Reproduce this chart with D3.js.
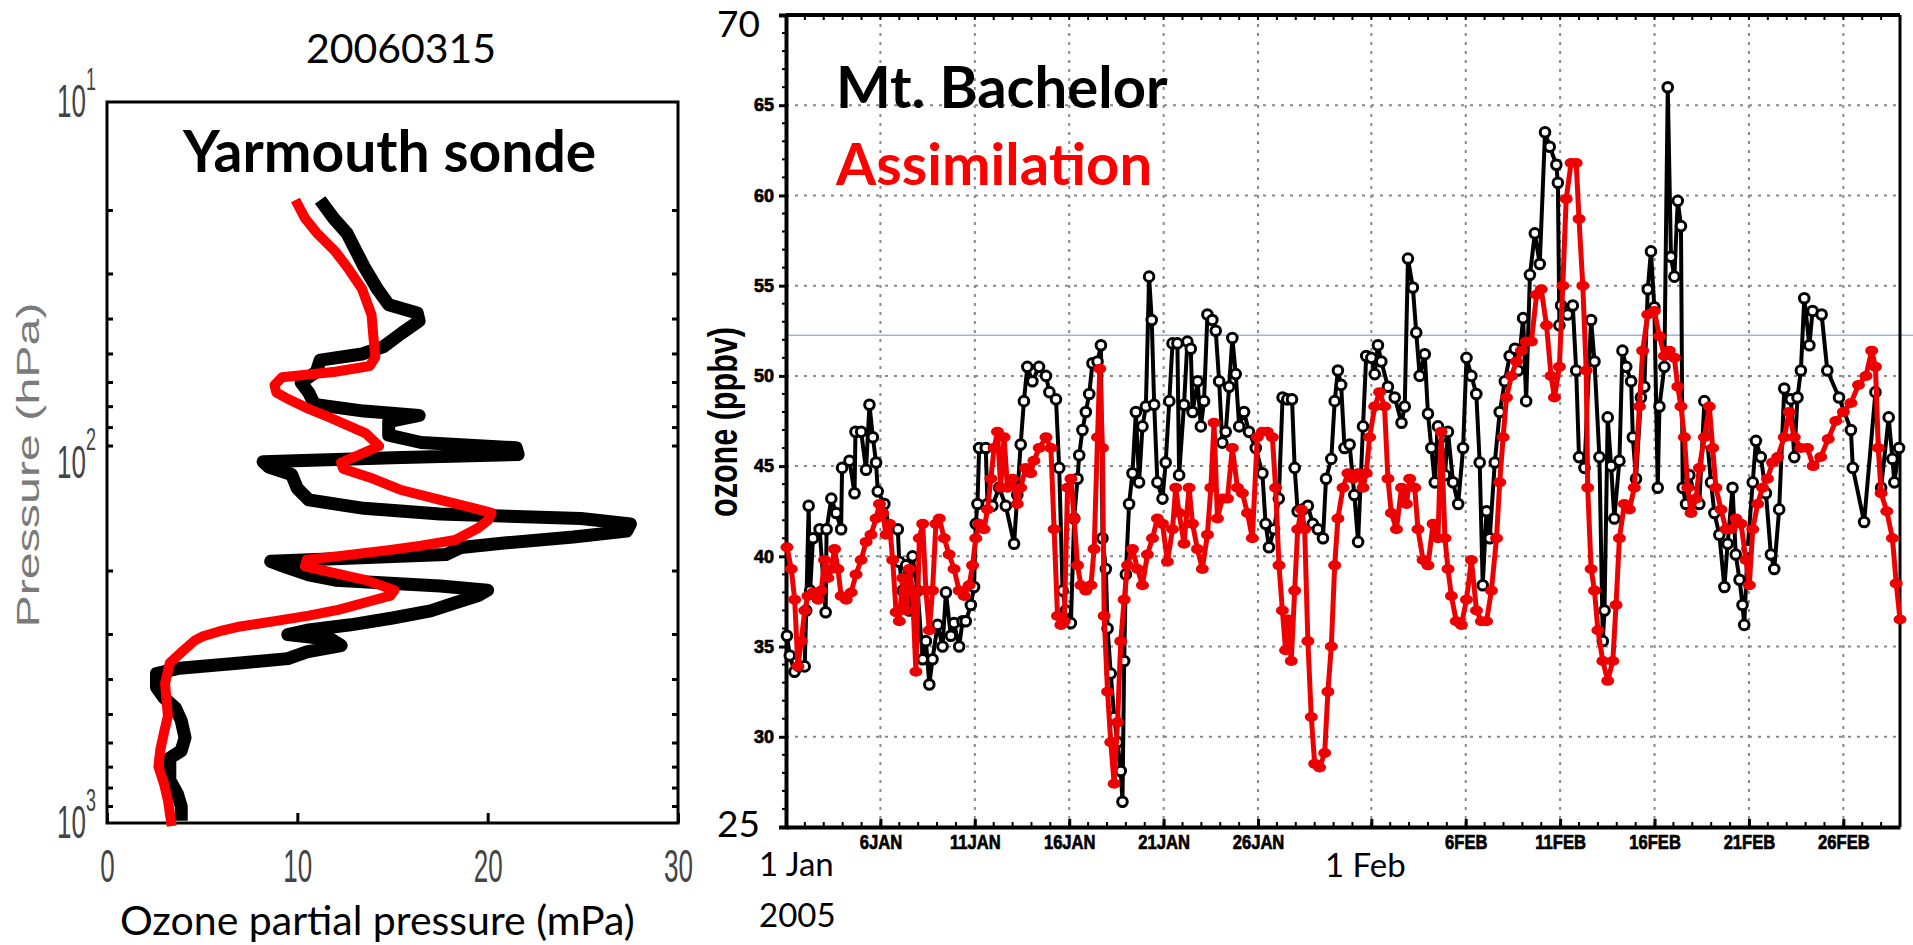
<!DOCTYPE html>
<html>
<head>
<meta charset="utf-8">
<script src="https://cdn.jsdelivr.net/npm/d3@7"></script>
<style>
  html, body { margin: 0; padding: 0; background: #fff; }
  svg { display: block; }
</style>
</head>
<body>
<svg id="chart" width="1913" height="945"></svg>
<script>
// ---- sonde profile (left panel): pressure in hPa, ozone partial pressure in mPa
const sondeObsP = [18.7,21,23.1,26,28.6,33,36.5,38.5,40.5,43.7,47.8,50,52,56,60,64,69,72,74,77,84,88,91,95,97,99.5,103,108,118,127,134,139,143,148,155,161,167,172,180,184,188,195,205,212,220,226,234,245,258,270,282,292,300,310,322,335,350,360,372,385,420,450,480,520,580,630,660,760,830,900,985];
const sondeObsO3 = [11.2,11.9,12.6,13.1,13.5,14.2,14.8,16.3,16.4,15.5,14.5,13.4,11.2,11.0,10.2,10.6,10.9,13.5,16.4,14.8,14.8,16.5,21.5,21.6,15,8.2,8.5,9.7,10.0,10.6,13.5,17.5,24.9,27.5,27.3,24.5,21.0,18.6,17.8,13.0,8.6,9.4,10.6,12.0,17.5,20.0,19.5,18.3,17.0,15.0,12.8,10.5,9.5,11.8,12.3,10.5,9.5,7.0,3.8,2.6,2.6,3.0,3.6,3.9,4.1,3.9,3.3,3.3,3.7,3.9,3.9];
const sondeModelP = [18.7,21,23,26,28.6,33,39,45,51,54,56,58,61,64,67,71,75,83,90,96,100,104,110,119,127,134,138,145,152,164,170,175,181,186,194,200,212,226,234,241,256,266,275,285,292,304,312,333,360,410,505,560,627,697,780,864,1020];
const sondeModelO3 = [9.9,10.4,11.0,12.0,12.6,13.4,13.9,14.0,14.1,13.8,12.0,9.2,8.8,8.9,9.6,10.6,11.7,13.6,14.3,13.1,12.3,12.4,13.8,15.4,17.5,19.3,20.2,20.0,19.5,18.3,16.5,14.8,12.5,10.5,10.4,11.5,13.6,15.1,14.9,14.0,12.2,10.6,8.9,7.0,6.1,5.0,4.6,4.0,3.3,3.05,3.2,3.0,2.8,2.7,3.0,3.2,3.4];
const sondeXTicks = [0, 10, 20, 30];
const sondeYTicks = [10, 100, 1000];

// ---- Mt. Bachelor surface ozone (right panel): days since 1 Jan 2005, ppbv
const obsDay = [0.05,0.2,0.45,0.7,0.99,1.07,1.2,1.28,1.43,1.78,2.1,2.15,2.4,2.66,2.92,2.97,3.36,3.63,3.68,3.98,4.24,4.42,4.6,4.77,4.86,5.21,5.48,5.92,6.0,6.18,6.36,6.53,6.7,6.97,7.24,7.41,7.59,7.76,8.03,8.29,8.47,8.73,8.9,9.17,9.35,9.52,9.79,9.96,10.05,10.14,10.23,10.58,10.67,10.93,11.29,11.64,12.08,12.25,12.43,12.6,12.78,13.05,13.4,13.77,13.95,14.3,14.47,14.65,14.82,15.09,15.26,15.44,15.53,15.7,15.88,16.06,16.23,16.5,16.68,16.76,16.94,17.03,17.2,17.38,17.56,17.73,17.82,17.91,18.0,18.17,18.35,18.53,18.7,18.88,19.06,19.23,19.37,19.5,19.67,19.94,20.11,20.3,20.47,20.73,20.82,21.08,21.26,21.44,21.53,21.8,21.97,22.14,22.32,22.58,22.76,22.94,23.11,23.29,23.47,23.64,23.82,24.0,24.26,24.52,24.88,25.23,25.4,25.58,25.85,26.1,26.3,26.55,26.8,26.94,27.1,27.38,27.64,27.9,28.17,28.44,28.6,28.88,29.06,29.23,29.4,29.58,29.85,30.1,30.3,30.56,30.73,31.0,31.18,31.35,31.53,31.88,32.24,32.6,32.77,32.94,33.2,33.38,33.56,33.83,34.0,34.18,34.36,34.53,34.7,34.9,35.06,35.33,35.6,35.86,36.04,36.3,36.56,36.74,36.9,37.1,37.27,37.54,37.8,38.07,38.33,38.6,38.77,39.04,39.2,39.4,39.66,39.92,40.2,40.45,40.8,40.88,40.96,41.05,41.4,41.67,41.85,42.0,42.29,42.64,42.82,43.08,43.26,43.35,43.52,43.7,43.87,44.14,44.3,44.5,44.76,44.85,45.02,45.28,45.46,45.64,45.81,45.99,46.17,46.26,46.52,46.7,46.87,47.05,47.23,47.4,47.49,47.67,47.84,48.1,48.37,48.64,48.8,48.99,49.17,49.43,49.7,49.87,50.13,50.3,50.5,50.66,50.75,50.93,51.2,51.37,51.63,51.9,52.16,52.34,52.6,52.87,53.22,53.4,53.57,53.75,53.93,54.2,54.37,54.85,55.15,55.77,56.4,56.5,57.1,57.7,58.0,58.4,58.6,58.7,58.95];
const obsO3 = [35.6,34.5,33.6,33.9,33.9,37.0,42.8,38.1,41.0,41.5,36.9,41.5,43.2,42.4,41.5,44.9,45.3,43.5,46.9,46.9,44.8,48.4,46.6,45.2,43.6,42.9,41.5,41.5,39.7,38.1,39.5,37.0,40.0,38.1,34.3,35.3,32.9,34.3,36.2,35.0,38.0,35.6,36.3,35.0,36.4,36.4,37.3,38.3,41.8,42.9,46.0,46.0,42.9,42.8,43.8,42.8,40.7,43.4,46.2,48.6,50.5,49.7,50.5,50.0,49.1,48.7,44.9,38.1,37.0,36.3,42.1,44.3,45.6,47.0,48.0,49.0,50.7,50.8,51.7,41.0,39.3,36.0,33.5,31.1,29.7,28.1,26.4,34.2,39.0,42.9,44.6,48.0,44.1,47.2,48.3,55.5,53.1,48.4,44.1,43.2,45.2,48.6,51.8,51.8,44.5,48.4,51.9,51.5,48.0,49.7,47.2,48.6,53.4,53.1,52.5,49.7,46.3,46.9,49.4,52.1,50.1,47.2,48.0,46.9,46.0,44.6,41.8,40.5,41.5,43.2,48.8,48.7,48.7,44.9,42.5,42.6,42.8,41.8,41.5,41.0,44.3,45.4,48.6,50.3,49.5,46.0,46.2,43.4,40.8,47.2,51.1,51.0,50.1,51.7,50.8,49.4,48.8,47.4,48.3,56.5,54.9,52.4,50.0,51.2,47.9,46.0,44.1,47.2,46.6,44.5,46.9,44.1,42.9,46.0,51.0,50.0,49.0,45.2,38.4,42.5,41.0,45.2,48.0,49.7,51.1,51.5,50.3,53.2,48.6,55.6,57.9,56.2,63.5,62.7,61.7,60.7,52.8,53.9,53.4,53.9,50.3,45.5,44.9,53.1,50.8,45.5,35.3,37.0,47.7,45.0,42.1,45.3,51.4,50.5,49.7,46.6,44.3,48.8,49.4,54.8,56.9,53.8,43.8,48.3,50.5,66.0,56.6,55.5,59.7,58.3,43.8,42.9,44.5,43.5,42.9,48.6,46.3,44.1,42.4,41.2,38.3,40.7,43.8,40.1,38.7,37.3,36.2,40.4,44.1,46.4,45.5,43.5,40.1,39.3,42.6,49.3,48.7,45.5,48.8,50.3,54.3,51.7,53.6,53.4,50.3,48.8,47.0,44.9,41.9,49.1,43.8,47.7,45.4,44.1,46.0];

// ---- assimilation at Mt. Bachelor
const modelDay = [0.05,0.28,0.46,0.63,0.81,0.99,1.16,1.43,1.7,1.87,2.04,2.22,2.39,2.57,2.75,2.92,3.19,3.45,3.71,3.98,4.24,4.5,4.77,4.95,5.12,5.3,5.48,5.65,5.83,6.0,6.18,6.36,6.53,6.7,6.88,7.06,7.24,7.41,7.59,7.76,7.94,8.12,8.38,8.64,8.9,9.17,9.44,9.7,9.88,10.05,10.23,10.49,10.67,10.85,11.02,11.2,11.37,11.55,11.73,12.0,12.25,12.43,12.69,12.96,13.13,13.41,13.77,14.03,14.2,14.38,14.56,14.74,14.91,15.09,15.26,15.44,15.62,15.88,16.15,16.32,16.5,16.62,16.76,16.85,17.03,17.2,17.38,17.56,17.73,17.91,18.09,18.35,18.62,18.88,19.14,19.41,19.67,19.94,20.2,20.47,20.64,20.82,21.08,21.35,21.53,21.79,22.05,22.32,22.5,22.67,22.85,23.11,23.38,23.64,23.91,24.17,24.44,24.7,24.96,25.23,25.49,25.76,25.93,26.11,26.29,26.46,26.6,26.76,26.94,27.1,27.3,27.47,27.64,27.82,28.0,28.26,28.53,28.7,28.88,29.06,29.23,29.5,29.76,30.03,30.3,30.56,30.73,30.91,31.18,31.44,31.7,31.88,32.06,32.33,32.6,32.86,33.03,33.3,33.47,33.74,34.0,34.27,34.53,34.7,34.9,35.06,35.24,35.5,35.77,36.04,36.3,36.57,36.83,37.1,37.36,37.63,37.8,37.98,38.16,38.42,38.69,38.95,39.2,39.48,39.75,40.0,40.28,40.52,40.7,40.96,41.14,41.32,41.58,41.85,42.0,42.2,42.38,42.46,42.64,42.82,43.0,43.26,43.52,43.79,43.96,44.14,44.4,44.67,44.93,45.2,45.37,45.64,45.99,46.26,46.52,46.78,47.05,47.23,47.4,47.58,47.76,47.93,48.2,48.37,48.64,48.9,49.08,49.25,49.52,49.78,50.05,50.31,50.58,50.84,51.02,51.2,51.46,51.72,51.98,52.25,52.52,52.87,53.13,53.4,53.75,54.1,54.4,54.8,55.2,55.6,56.0,56.4,56.8,57.2,57.5,57.7,57.85,58.0,58.3,58.6,58.8,59.0];
const modelO3 = [40.5,39.3,37.6,33.9,35.3,37.0,37.8,38.0,37.6,38.1,39.8,38.8,39.3,40.4,39.3,37.8,37.6,38.0,39.0,39.8,40.8,41.2,42.1,42.9,42.4,41.2,41.8,39.8,36.9,36.4,38.8,37.0,39.3,38.1,33.6,41.0,41.8,38.1,35.9,38.1,41.8,42.1,41.0,40.1,39.3,38.1,37.8,38.4,39.5,41.0,41.8,41.5,42.6,44.3,46.0,46.9,43.8,46.6,43.8,44.3,42.9,43.8,44.9,44.6,45.3,46.0,46.6,46.0,41.5,36.7,36.2,36.4,43.8,44.3,42.1,39.5,38.4,38.1,38.4,40.4,46.6,50.4,46.0,36.7,32.5,29.7,27.4,30.8,35.3,37.6,39.5,40.4,39.3,38.4,40.1,41.0,42.1,41.8,39.7,41.5,43.8,42.4,40.7,43.8,41.8,40.4,39.3,41.2,43.8,47.4,42.1,43.2,43.2,46.0,43.8,43.5,42.4,41.0,46.6,46.9,46.9,46.6,43.8,39.5,37.0,34.8,36.5,34.2,38.1,41.5,42.6,41.5,35.3,31.1,28.5,28.3,29.1,32.5,35.0,39.5,42.1,43.8,44.6,44.3,44.6,43.8,44.6,46.6,48.3,49.1,48.3,44.3,42.4,41.5,43.8,42.9,44.3,43.8,41.5,39.8,39.5,41.8,41.0,46.9,41.0,39.3,37.8,36.4,36.2,37.6,39.8,37.0,36.4,36.4,38.1,41.0,44.1,46.6,48.8,50.0,50.8,51.4,51.9,51.9,54.5,54.8,52.8,50.0,48.8,50.5,55.0,59.8,61.8,61.8,58.7,55.0,50.3,43.8,39.3,38.1,35.9,34.2,33.1,34.2,37.3,41.0,42.9,42.6,43.8,48.3,51.4,53.4,53.6,52.2,51.1,51.4,51.0,49.4,48.3,46.6,43.8,42.4,43.2,44.9,46.6,48.3,46.0,43.8,42.6,41.5,41.5,42.1,41.8,39.8,38.4,41.5,42.9,43.8,44.3,45.2,45.5,46.6,48.0,46.6,46.0,46.0,45.0,45.5,46.5,47.5,48.0,48.5,49.5,50.0,51.4,50.5,46.0,43.5,42.5,41.0,38.5,36.5];

const ozoneTicks = [30, 35, 40, 45, 50, 55, 60, 65];
const dateTickDays = [5, 10, 15, 20, 25, 31, 36, 41, 46, 51, 56];
const dateTickLabels = ["6JAN", "11JAN", "16JAN", "21JAN", "26JAN", "", "6FEB", "11FEB", "16FEB", "21FEB", "26FEB"];
const blueRefLine = 52.25;

const svg = d3.select("#chart");
const slideFont = "Lato, 'Open Sans', sans-serif";
const plotFont = "'Liberation Sans', Arial, sans-serif";

// ================= left panel: ozonesonde =================
const L = { left: 107, right: 678, top: 102, bottom: 823 };
const xL = d3.scaleLinear().domain([0, 30]).range([L.left, L.right]);
const yL = d3.scaleLog().domain([10, 1000]).range([L.top, L.bottom]);

const gL = svg.append("g");

// minor log ticks on both inner edges
const minorP = d3.range(2, 10).map(d => d * 10).concat(d3.range(2, 10).map(d => d * 100));
[L.left, L.right].forEach((x0, i) => {
  gL.selectAll(null).data(minorP).enter().append("line")
    .attr("x1", x0).attr("x2", i === 0 ? x0 + 6 : x0 - 6)
    .attr("y1", d => yL(d)).attr("y2", d => yL(d))
    .attr("stroke", "#000").attr("stroke-width", 3);
});

// x axis
const xAxisL = gL.append("g")
  .attr("transform", `translate(0,${L.bottom})`)
  .call(d3.axisBottom(xL).tickValues(sondeXTicks).tickSizeInner(-10).tickSizeOuter(0));
xAxisL.select(".domain").remove();
xAxisL.selectAll(".tick line").attr("stroke", "#000").attr("stroke-width", 3);
xAxisL.selectAll(".tick text")
  .attr("y", 0).attr("dy", "0.35em")
  .attr("transform", "translate(0,43) scale(1,1.75)")
  .attr("font-family", plotFont).attr("font-size", 26).attr("fill", "#444");

// y axis with 10^n labels
const yAxisL = gL.append("g")
  .attr("transform", `translate(${L.left},0)`)
  .call(d3.axisLeft(yL).tickValues(sondeYTicks).tickSize(0).tickFormat(() => ""));
yAxisL.select(".domain").remove();
yAxisL.selectAll(".tick text").each(function (d) {
  const t = d3.select(this);
  t.attr("x", -11).attr("dy", "0.32em")
    .attr("font-family", plotFont).attr("font-size", 26).attr("fill", "#444")
    .attr("transform", "scale(1,1.75)");
  t.append("tspan").text("10");
  t.append("tspan").attr("font-size", 18).attr("dy", -15.7).text(Math.round(Math.log10(d)));
});

// frame
gL.append("rect")
  .attr("x", L.left).attr("y", L.top)
  .attr("width", L.right - L.left).attr("height", L.bottom - L.top)
  .attr("fill", "none").attr("stroke", "#000").attr("stroke-width", 3);

// profiles
const profileLine = d3.line().x(d => xL(d[1])).y(d => yL(d[0]));
gL.append("path")
  .datum(d3.zip(sondeObsP, sondeObsO3))
  .attr("d", profileLine)
  .attr("fill", "none").attr("stroke", "#000").attr("stroke-width", 13)
  .attr("stroke-linejoin", "round");
gL.append("path")
  .datum(d3.zip(sondeModelP, sondeModelO3))
  .attr("d", profileLine)
  .attr("fill", "none").attr("stroke", "#f00").attr("stroke-width", 10)
  .attr("stroke-linejoin", "round");

// labels
gL.append("text")
  .attr("x", 401).attr("y", 63).attr("text-anchor", "middle")
  .attr("font-family", slideFont).attr("font-size", 41)
  .text("20060315");
gL.append("text")
  .attr("x", 183).attr("y", 172)
  .attr("font-family", slideFont).attr("font-size", 57).attr("font-weight", 700)
  .text("Yarmouth sonde");
gL.append("text")
  .attr("x", 120).attr("y", 935)
  .attr("font-family", slideFont).attr("font-size", 41)
  .text("Ozone partial pressure (mPa)");
gL.append("text")
  .attr("transform", "translate(28,465) rotate(-90)")
  .attr("text-anchor", "middle").attr("dy", "0.35em")
  .attr("font-family", plotFont).attr("font-size", 31).attr("fill", "#7a7a7a")
  .attr("textLength", 325).attr("lengthAdjust", "spacingAndGlyphs")
  .text("Pressure (hPa)");

// ================= right panel: Mt. Bachelor time series =================
const R = { left: 786, right: 1900, top: 15, bottom: 827 };
const t0 = new Date(2005, 0, 1), t1 = new Date(2005, 2, 1);
const dayToDate = d => new Date(t0.getTime() + d * 864e5);
const xR = d3.scaleTime().domain([t0, t1]).range([R.left, R.right]);
const yR = d3.scaleLinear().domain([25, 70]).range([R.bottom, R.top]);

const gR = svg.append("g");

// grid
gR.selectAll(".vgrid").data(dateTickDays).enter().append("line")
  .attr("x1", d => xR(dayToDate(d))).attr("x2", d => xR(dayToDate(d)))
  .attr("y1", R.top).attr("y2", R.bottom)
  .attr("stroke", "#888").attr("stroke-width", 2).attr("stroke-dasharray", "3,6");
gR.selectAll(".hgrid").data(ozoneTicks).enter().append("line")
  .attr("x1", R.left).attr("x2", R.right)
  .attr("y1", d => yR(d)).attr("y2", d => yR(d))
  .attr("stroke", "#888").attr("stroke-width", 2).attr("stroke-dasharray", "3,6");

// thin blue line across the panel
gR.append("line")
  .attr("x1", R.left).attr("x2", 1913)
  .attr("y1", yR(blueRefLine)).attr("y2", yR(blueRefLine))
  .attr("stroke", "#9fb4d4").attr("stroke-width", 1.5);

// minor ticks (daily on top/bottom, 1 ppbv on left)
const days = d3.range(0, 60);
[R.top, R.bottom].forEach((y0, i) => {
  gR.selectAll(null).data(days).enter().append("line")
    .attr("x1", d => xR(dayToDate(d))).attr("x2", d => xR(dayToDate(d)))
    .attr("y1", y0).attr("y2", i === 0 ? y0 + 5 : y0 - 5)
    .attr("stroke", "#000").attr("stroke-width", 2);
});
gR.selectAll(null).data(d3.range(26, 70).filter(v => v % 5 !== 0)).enter().append("line")
  .attr("x1", R.left).attr("x2", R.left - 4)
  .attr("y1", d => yR(d)).attr("y2", d => yR(d))
  .attr("stroke", "#000").attr("stroke-width", 2);

// y axis
const yAxisR = gR.append("g")
  .attr("transform", `translate(${R.left},0)`)
  .call(d3.axisLeft(yR).tickValues(ozoneTicks).tickSize(7).tickPadding(5));
yAxisR.select(".domain").attr("stroke-width", 4);
yAxisR.selectAll(".tick line").attr("stroke-width", 3);
yAxisR.selectAll(".tick text")
  .attr("font-family", plotFont).attr("font-size", 18).attr("font-weight", 700)
  .attr("fill", "#000").attr("stroke", "#000").attr("stroke-width", 0.7);

// x axis
const xAxisR = gR.append("g")
  .attr("transform", `translate(0,${R.bottom})`)
  .call(d3.axisBottom(xR).tickValues(dateTickDays.map(dayToDate))
    .tickFormat((d, i) => dateTickLabels[i]).tickSizeInner(-8).tickSizeOuter(0));
xAxisR.select(".domain").attr("stroke-width", 4);
xAxisR.selectAll(".tick line").attr("stroke-width", 3);
xAxisR.selectAll(".tick text")
  .attr("y", 8)
  .attr("transform", "scale(0.83,1)")
  .attr("font-family", plotFont).attr("font-size", 20).attr("font-weight", 700)
  .attr("fill", "#000").attr("stroke", "#000").attr("stroke-width", 0.7);

// top and right frame
gR.append("line").attr("x1", R.left).attr("x2", R.right).attr("y1", R.top).attr("y2", R.top)
  .attr("stroke", "#000").attr("stroke-width", 4);
gR.append("line").attr("x1", R.right).attr("x2", R.right).attr("y1", R.top).attr("y2", R.bottom)
  .attr("stroke", "#000").attr("stroke-width", 3);

// series
const obs = d3.zip(obsDay, obsO3).map(([d, v]) => ({ t: dayToDate(d), v }));
const model = d3.zip(modelDay, modelO3).map(([d, v]) => ({ t: dayToDate(d), v }));
const lineR = d3.line().x(d => xR(d.t)).y(d => yR(d.v));

gR.append("path").datum(obs).attr("d", lineR)
  .attr("fill", "none").attr("stroke", "#000").attr("stroke-width", 4)
  .attr("stroke-linejoin", "round");
gR.selectAll(".obs").data(obs).enter().append("circle")
  .attr("cx", d => xR(d.t)).attr("cy", d => yR(d.v)).attr("r", 4.8)
  .attr("fill", "#fff").attr("stroke", "#000").attr("stroke-width", 3);

gR.append("path").datum(model).attr("d", lineR)
  .attr("fill", "none").attr("stroke", "#ee0000").attr("stroke-width", 5)
  .attr("stroke-linejoin", "round");
gR.selectAll(".mod").data(model).enter().append("ellipse")
  .attr("cx", d => xR(d.t)).attr("cy", d => yR(d.v)).attr("rx", 6.5).attr("ry", 5)
  .attr("fill", "#ee0000");

// slide labels
gR.append("text").attr("x", 836).attr("y", 108)
  .attr("font-family", slideFont).attr("font-size", 58).attr("font-weight", 700)
  .text("Mt. Bachelor");
gR.append("text").attr("x", 836).attr("y", 185)
  .attr("font-family", slideFont).attr("font-size", 58).attr("font-weight", 700).attr("fill", "#f00")
  .text("Assimilation");
gR.append("text").attr("x", 717).attr("y", 37)
  .attr("font-family", slideFont).attr("font-size", 37).text("70");
gR.append("text").attr("x", 717).attr("y", 837)
  .attr("font-family", slideFont).attr("font-size", 37).text("25");
gR.append("text").attr("x", 759).attr("y", 876)
  .attr("font-family", slideFont).attr("font-size", 33).text("1 Jan");
gR.append("text").attr("x", 759).attr("y", 927)
  .attr("font-family", slideFont).attr("font-size", 33).text("2005");
gR.append("text").attr("x", 1325).attr("y", 877)
  .attr("font-family", slideFont).attr("font-size", 33).text("1 Feb");
gR.append("text")
  .attr("transform", "translate(723,422) rotate(-90)")
  .attr("text-anchor", "middle").attr("dy", "0.35em")
  .attr("font-family", plotFont).attr("font-size", 40).attr("font-weight", 700)
  .attr("textLength", 190).attr("lengthAdjust", "spacingAndGlyphs")
  .text("ozone (ppbv)");
</script>
</body>
</html>
